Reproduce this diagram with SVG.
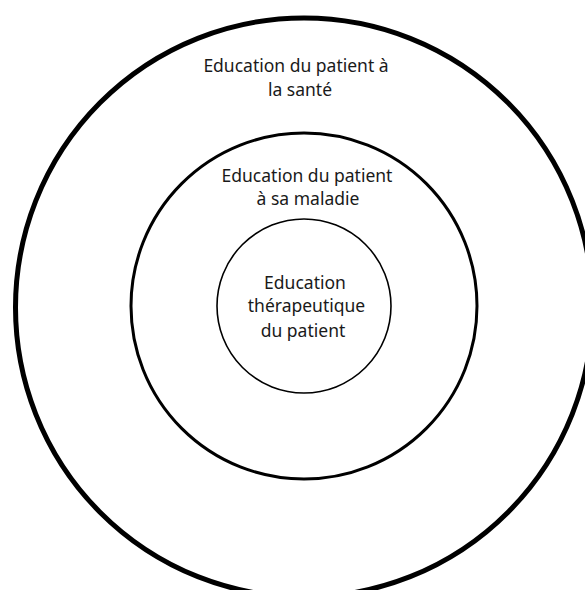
<svg xmlns="http://www.w3.org/2000/svg" width="585" height="590" viewBox="0 0 585 590">
<style>
.ring{fill:none;stroke:#000}
.lbl{font-family:"Noto Sans","Open Sans",sans-serif;font-size:17.5px;fill:#1a1a1a;text-anchor:middle}
</style>
<rect width="585" height="590" fill="#fff"/>
<g id="outer">
<ellipse class="ring" cx="304" cy="307.5" rx="288.5" ry="289.5" stroke-width="5"/>
<text class="lbl" x="296" y="72">Education du patient à</text>
<text class="lbl" x="300" y="96">la santé</text>
</g>
<g id="middle">
<circle class="ring" cx="304" cy="306" r="173" stroke-width="3"/>
<text class="lbl" x="307" y="181.5">Education du patient</text>
<text class="lbl" x="308" y="205">à sa maladie</text>
</g>
<g id="inner">
<circle class="ring" cx="304" cy="306" r="87" stroke-width="1.6"/>
<text class="lbl" x="305" y="289">Education</text>
<text class="lbl" x="306.5" y="312">thérapeutique</text>
<text class="lbl" x="303" y="336.5">du patient</text>
</g>
<g id="connectors"/>
</svg>
